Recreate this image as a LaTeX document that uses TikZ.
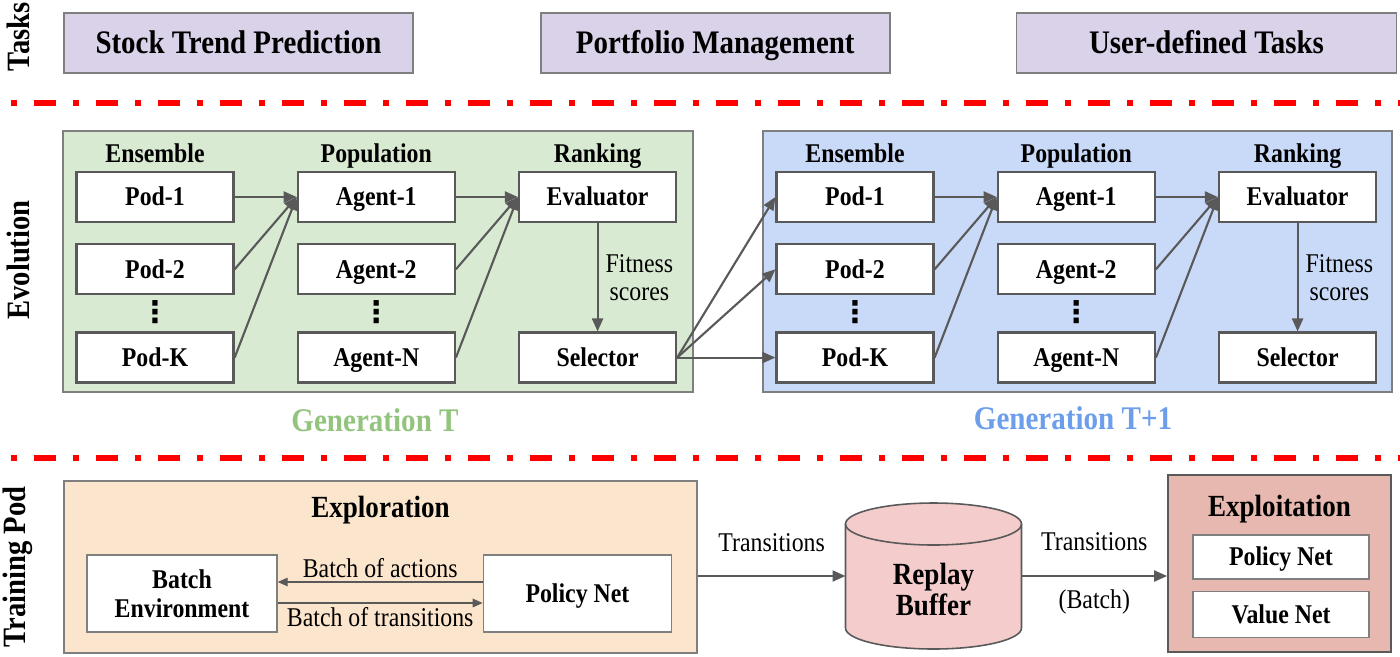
\documentclass[tikz,border=0pt]{standalone}
\usepackage{fontspec}
\setmainfont{Liberation Serif}[FakeStretch=0.88]
\newfontfamily\symfont{DejaVu Sans}
\usepackage{tikz}
\usetikzlibrary{positioning,calc,arrows.meta}

\definecolor{tasklav}{HTML}{D9D2E9}
\definecolor{genT}{HTML}{D9EAD3}
\definecolor{genTb}{HTML}{C9DAF8}
\definecolor{genTtxt}{HTML}{93C47D}
\definecolor{genTbtxt}{HTML}{6D9EEB}
\definecolor{explorc}{HTML}{FCE5CD}
\definecolor{bufpink}{HTML}{F4CCCC}
\definecolor{exploitc}{HTML}{E6B8AF}
\definecolor{boxgray}{HTML}{595959}
\definecolor{framegray}{HTML}{7F7F7F}
\definecolor{arrgray}{HTML}{595959}

\newcommand{\boxfont}{\fontsize{15.4}{16.5}\selectfont\bfseries}
\newcommand{\txtfont}{\fontsize{15.4}{16}\selectfont}
\newcommand{\titlefont}{\fontsize{17.5}{18}\selectfont\bfseries}

\begin{document}
\begin{tikzpicture}[
  arr/.style={draw=arrgray, line width=1.2pt, -{Triangle[length=0.26cm,width=0.22cm]}},
  thinarr/.style={draw=arrgray, line width=0.8pt, -{Triangle[length=0.2cm,width=0.17cm]}},
  fixline/.style={text height=10.2pt, text depth=0pt},
  task/.style={draw=framegray, fill=tasklav, line width=1pt, minimum width=6.98cm, minimum height=1.2cm, text height=12.3pt, text depth=0pt, font=\fontsize{18.7}{22}\selectfont\bfseries},
  unit/.style={draw=boxgray, fill=white, line width=1.3pt, minimum width=3.14cm, minimum height=1cm, fixline, font=\boxfont},
  head/.style={font=\boxfont, inner sep=1pt, fixline},
  dots/.style={font=\fontsize{17}{17}\selectfont\symfont\bfseries, inner sep=0pt},
  side/.style={rotate=90, font=\fontsize{18.5}{22}\selectfont\bfseries},
  sepline/.style={draw=red, line width=3.4pt, dash pattern=on 0.12cm off 0.34cm on 0.44cm off 0.34cm},
  gen/.style={draw=framegray, line width=0.9pt},
  thin/.style={draw=framegray, fill=white, line width=0.8pt, font=\boxfont, align=center},
  lbl/.style={font=\txtfont, inner sep=2pt}
]
\useasboundingbox (0,0) rectangle (28,-13.12);
%----------------------------------
\node[side] (tasks) at (0.36,-0.74) {Tasks};
\node[side] (evo) at (0.36,-5.2) {Evolution};
\node[side] (tpod) at (0.36,-11.34) {Training Pod};
\node[task] (stp) at (4.77,-0.86) {Stock Trend Prediction};
\node[task, right=2.52cm of stp] (pm) {Portfolio Management};
\node[task, right=2.5cm of pm, minimum width=7.6cm] (udt) {User-defined Tasks};
\draw[sepline] (0.22,-2.06) -- (28,-2.06);
\draw[sepline] (0.22,-9.16) -- (28,-9.16);
%----------------------------------
\draw[gen, fill=genT] (1.26,-2.62) rectangle (13.86,-7.84);
\draw[gen, fill=genTb] (15.26,-2.62) rectangle (27.84,-7.84);
\node[font=\fontsize{18.8}{20}\selectfont\bfseries, text=genTtxt] (gent) at (7.5,-8.4) {Generation T};
\node[font=\fontsize{18.8}{20}\selectfont\bfseries, text=genTbtxt] (gentb) at (21.46,-8.36) {Generation T+1};
% generation T
\node[unit] (pod1) at (3.1,-3.94) {Pod-1};
\node[unit, below=0.4cm of pod1] (pod2) {Pod-2};
\node[unit, below=0.72cm of pod2] (podk) {Pod-K};
\node[unit, right=1.24cm of pod1] (ag1) {Agent-1};
\node[unit, below=0.4cm of ag1] (ag2) {Agent-2};
\node[unit, below=0.72cm of ag2] (agn) {Agent-N};
\node[unit, right=1.24cm of ag1] (eval) {Evaluator};
\node[unit] (sel) at (eval |- podk) {Selector};
\node[head, above=0.12cm of pod1] (ens) {Ensemble};
\node[head, above=0.12cm of ag1] (popu) {Population};
\node[head, above=0.12cm of eval] (rank) {Ranking};
\node[dots] (dpod) at ($(pod2.south)!0.45!(podk.north)$) {⋮};
\node[dots] (dag) at ($(ag2.south)!0.45!(agn.north)$) {⋮};
% generation T+1
\node[unit] (pod1b) at (17.1,-3.94) {Pod-1};
\node[unit, below=0.4cm of pod1b] (pod2b) {Pod-2};
\node[unit, below=0.72cm of pod2b] (podkb) {Pod-K};
\node[unit, right=1.24cm of pod1b] (ag1b) {Agent-1};
\node[unit, below=0.4cm of ag1b] (ag2b) {Agent-2};
\node[unit, below=0.72cm of ag2b] (agnb) {Agent-N};
\node[unit, right=1.24cm of ag1b] (evalb) {Evaluator};
\node[unit] (selb) at (evalb |- podkb) {Selector};
\node[head, above=0.12cm of pod1b] (ensb) {Ensemble};
\node[head, above=0.12cm of ag1b] (popub) {Population};
\node[head, above=0.12cm of evalb] (rankb) {Ranking};
\node[dots] (dpodb) at ($(pod2b.south)!0.45!(podkb.north)$) {⋮};
\node[dots] (dagb) at ($(ag2b.south)!0.45!(agnb.north)$) {⋮};
%----------------------------------
\draw[arr] (pod1.east) -- (ag1.west);
\draw[arr] (pod2.east) -- (ag1.west);
\draw[arr] (podk.east) -- (ag1.west);
\draw[arr] (ag1.east) -- (eval.west);
\draw[arr] (ag2.east) -- (eval.west);
\draw[arr] (agn.east) -- (eval.west);
\draw[arr] (eval) -- node[right, lbl, align=center, inner sep=4pt] {Fitness\\scores} (sel);
\draw[arr] (sel.east) -- (pod1b.west);
\draw[arr] (sel.east) -- (pod2b.west);
\draw[arr] (sel.east) -- (podkb.west);
\draw[arr] (pod1b.east) -- (ag1b.west);
\draw[arr] (pod2b.east) -- (ag1b.west);
\draw[arr] (podkb.east) -- (ag1b.west);
\draw[arr] (ag1b.east) -- (evalb.west);
\draw[arr] (ag2b.east) -- (evalb.west);
\draw[arr] (agnb.east) -- (evalb.west);
\draw[arr] (evalb) -- node[right, lbl, align=center, inner sep=4pt] {Fitness\\scores} (selb);
%----------------------------------
\node[draw=framegray, fill=explorc, line width=0.9pt, minimum width=12.66cm, minimum height=3.44cm] (explor) at (7.61,-11.34) {};
\node[font=\titlefont, text height=11.6pt, text depth=0pt] (exptl) at ([yshift=-0.54cm]explor.north) {Exploration};
\node[thin, minimum width=3.8cm, minimum height=1.54cm] (env) at (3.64,-11.87) {Batch\\Environment};
\node[thin, minimum width=3.76cm, minimum height=1.54cm, fixline, right=4.1cm of env] (pol) {Policy Net};
\draw[thinarr] ([yshift=0.23cm]pol.west) -- node[above, lbl] {Batch of actions} ([yshift=0.23cm]env.east);
\draw[thinarr] ([yshift=-0.19cm]env.east) -- node[below, lbl] {Batch of transitions} ([yshift=-0.19cm]pol.west);
% replay buffer
\node[minimum width=3.52cm, minimum height=2.92cm, outer sep=0pt] (buffer) at (18.67,-11.52) {};
\draw[draw=boxgray, fill=bufpink, line width=0.9pt] ([yshift=1.04cm]buffer.west) -- ([yshift=-1.04cm]buffer.west)
  arc[start angle=180, end angle=360, x radius=1.76cm, y radius=0.42cm] -- ([yshift=1.04cm]buffer.east)
  arc[start angle=0, end angle=180, x radius=1.76cm, y radius=0.42cm] -- cycle;
\draw[draw=boxgray, line width=0.9pt] ([yshift=1.04cm]buffer.west) arc[start angle=180, end angle=360, x radius=1.76cm, y radius=0.42cm];
\node[font=\titlefont, align=center] (buftxt) at ([yshift=-0.27cm]buffer.center) {Replay\\Buffer};
% exploitation
\node[draw=boxgray, fill=exploitc, line width=1pt, minimum width=4.46cm, minimum height=3.54cm] (exploit) at (25.59,-11.27) {};
\node[font=\titlefont, text height=11.6pt, text depth=0pt] (exptl2) at ([yshift=-0.64cm]exploit.north) {Exploitation};
\node[thin, minimum width=3.52cm, minimum height=0.88cm, fixline] (pol2) at (25.62,-11.14) {Policy Net};
\node[thin, minimum width=3.52cm, minimum height=0.92cm, fixline, below=0.22cm of pol2] (val) {Value Net};
\draw[arr] (explor.east |- buffer.west) -- node[above=0.4cm, lbl] {Transitions} (buffer.west);
\draw[arr] (buffer.east) -- node[above=0.41cm, lbl] {Transitions} node[below=0.19cm, lbl] {(Batch)} (buffer.east -| exploit.west);
\end{tikzpicture}
\end{document}
